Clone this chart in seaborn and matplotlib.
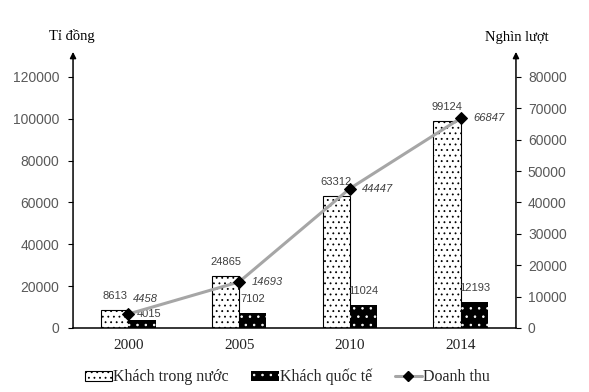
import matplotlib
matplotlib.use("Agg")
import matplotlib.pyplot as plt
import numpy as np
import pandas as pd
import seaborn as sns
from matplotlib.patches import Patch
from matplotlib.lines import Line2D

years = ["2000", "2005", "2010", "2014"]
khach_trong_nuoc = [8613, 24865, 63312, 99124]
khach_quoc_te = [4015, 7102, 11024, 12193]
doanh_thu = [4458, 14693, 44447, 66847]
series_names = ["Khách trong nước", "Khách quốc tế"]

df = pd.DataFrame({
    "year": years * 2,
    "value": khach_trong_nuoc + khach_quoc_te,
    "type": [series_names[0]] * len(years) + [series_names[1]] * len(years),
})
line_df = pd.DataFrame({"pos": np.arange(len(years)), "value": doanh_thu})

sns.set_theme(style="white", context="paper")
plt.rcParams["hatch.linewidth"] = 0.6
serif = ["Liberation Serif", "DejaVu Serif"]
sans = ["Liberation Sans", "DejaVu Sans"]
grey = "#595959"

fig = plt.figure(figsize=(5.89, 3.92), dpi=100)
ax = fig.add_axes([0.124, 0.1633, 0.752, 0.6403])

sns.barplot(data=df, x="year", y="value", hue="type", palette=["white", "black"],
            width=0.49, ax=ax, legend=False, saturation=1)

# bar styling
for bar in ax.containers[0]:
    bar.set_facecolor("white")
    bar.set_edgecolor("black")
    bar.set_linewidth(0.8)
    bar.set_hatch("...")
for bar in ax.containers[1]:
    bar.set_facecolor("black")
    bar.set_edgecolor("white")
    bar.set_linewidth(0)
    bar.set_hatch("..")

ax.bar_label(ax.containers[0], fmt="%d", padding=6.5, fontsize=8, color="#404040", family=sans)
intl_labels = ax.bar_label(ax.containers[1], fmt="%d", padding=6.5, fontsize=8,
                           color="#404040", family=sans)
# first label sits low, nudged right, to leave room for the line label
intl_labels[0].xyann = (5, 0.5)

ax.set_ylim(0, 120000)
ax.set_xlim(-0.5, 3.5)
ax.set_yticks(np.arange(0, 120001, 20000))
ax.set_xlabel("")
ax.set_ylabel("")

ax2 = ax.twinx()
sns.lineplot(data=line_df, x="pos", y="value", ax=ax2, color="#A6A6A6", linewidth=2.2,
             marker="D", markersize=6, markerfacecolor="black", markeredgecolor="black",
             legend=False)
ax2.set_ylim(0, 80000)
ax2.set_yticks(np.arange(0, 80001, 10000))
ax2.set_xlim(-0.5, 3.5)
ax2.set_xlabel("")
ax2.set_ylabel("")

for i, v in enumerate(doanh_thu):
    offset = (3.5, 11) if i == 0 else (9, 0)
    ax2.annotate(str(v), (i, v), xytext=offset, textcoords="offset points",
                 ha="left", va="center", fontsize=8, style="italic",
                 color="#404040", family=sans)

for a in (ax, ax2):
    for s in a.spines.values():
        s.set_visible(False)
ax.spines["bottom"].set_visible(True)
ax.spines["bottom"].set_color("black")
ax.spines["bottom"].set_linewidth(1.1)

for xpos in (0, 1):
    ax.annotate("", xy=(xpos, 1.10), xytext=(xpos, 0), xycoords="axes fraction",
                textcoords="axes fraction",
                arrowprops=dict(arrowstyle="-|>", color="black", lw=1.1,
                                mutation_scale=9, shrinkA=0, shrinkB=0))

ax.tick_params(axis="y", which="both", left=True, length=3.6, width=0.8, color="black",
               labelsize=10, labelcolor=grey, pad=6.5)
ax2.tick_params(axis="y", which="both", right=True, length=3.6, width=0.8, color="black",
                labelsize=10, labelcolor=grey, pad=5)
ax.tick_params(axis="x", bottom=False, labelsize=11, labelcolor="#222222", pad=3)
for lab in ax.get_yticklabels() + ax2.get_yticklabels():
    lab.set_family(sans)
for lab in ax.get_xticklabels():
    lab.set_family(serif)

fig.text(0.122, 0.908, "Tỉ đồng", ha="center", va="center", fontsize=10.5, family=serif, color="black")
fig.text(0.877, 0.905, "Nghìn lượt", ha="center", va="center", fontsize=10.5, family=serif, color="black")

handles = [
    Patch(facecolor="white", edgecolor="black", hatch="...", linewidth=0.8),
    Patch(facecolor="black", edgecolor="white", hatch="..", linewidth=0),
    Line2D([0], [0], color="#A6A6A6", linewidth=2.2, marker="D", markersize=5,
           markerfacecolor="black", markeredgecolor="black"),
]
fig.legend(handles, ["Khách trong nước", "Khách quốc tế", "Doanh thu"], loc="center",
           bbox_to_anchor=(0.488, 1 - 377 / 392), ncol=3, frameon=False,
           prop={"family": serif, "size": 11.5}, columnspacing=1.4, handlelength=1.7,
           handletextpad=0.1, handleheight=0.6)

fig.savefig("out.png", dpi=100)
